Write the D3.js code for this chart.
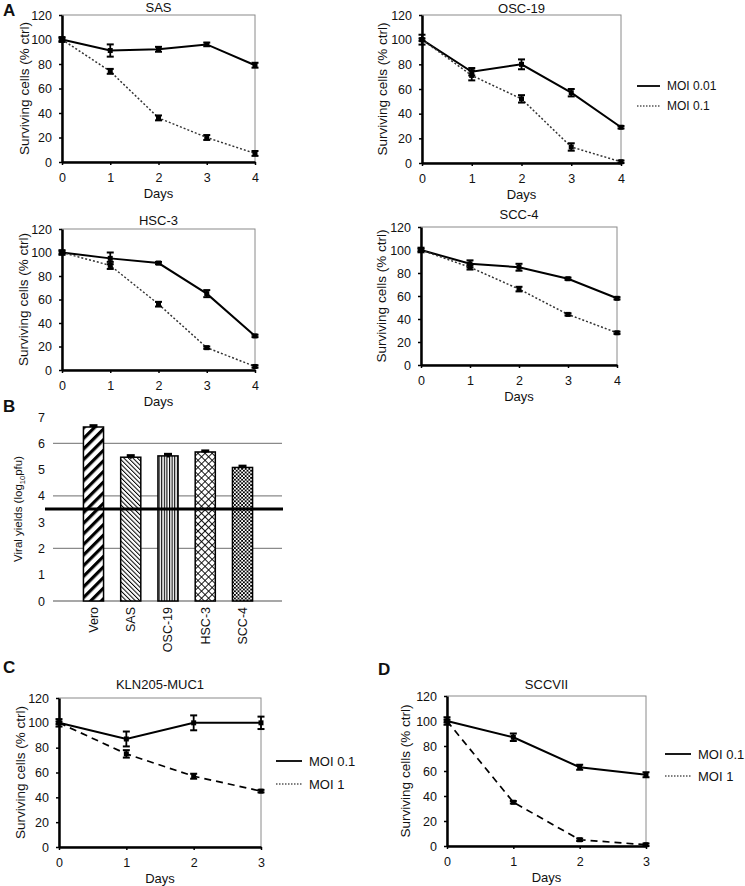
<!DOCTYPE html>
<html><head><meta charset="utf-8">
<script src="https://cdn.jsdelivr.net/npm/d3@7"></script>
<style>body{margin:0;background:#fff} svg{display:block;font-family:"Liberation Sans",Arial,sans-serif}</style>
</head><body><svg id="c" width="745" height="886"></svg>
<script>
// ---------- data ----------
const daysA = [0, 1, 2, 3, 4];
const daysCD = [0, 1, 2, 3];
const yTicks = [0, 20, 40, 60, 80, 100, 120];

const sasMOI001 = [100, 91, 92, 96, 79];
const sasMOI001Err = [2, 5, 2, 1.5, 2];
const sasMOI01 = [100, 74, 36, 20, 7];
const sasMOI01Err = [1, 2, 2, 2, 2];

const oscMOI001 = [100, 74, 80, 57, 29];
const oscMOI001Err = [4, 3, 4, 3, 1];
const oscMOI01 = [100, 71, 52, 13, 1];
const oscMOI01Err = [1, 4, 3, 3, 1];

const hscMOI001 = [100, 95, 91, 65, 29];
const hscMOI001Err = [2, 5, 1, 3, 1];
const hscMOI01 = [100, 89, 56, 19, 3];
const hscMOI01Err = [1, 3, 2, 1, 1];

const sccMOI001 = [100, 88, 85, 75, 58];
const sccMOI001Err = [2, 3, 3, 1, 1];
const sccMOI01 = [100, 85, 66, 44, 28];
const sccMOI01Err = [1, 2, 2, 1, 1];

const klnMOI01 = [100, 87, 100, 100];
const klnMOI01Err = [3, 6, 6, 5];
const klnMOI1 = [100, 75, 57, 45];
const klnMOI1Err = [1, 3, 2, 1];

const sccviiMOI01 = [100, 87, 63, 57];
const sccviiMOI01Err = [3, 3, 2, 2];
const sccviiMOI1 = [100, 35, 5, 1];
const sccviiMOI1Err = [1, 1, 1, 1];

const barCats = ["Vero", "SAS", "OSC-19", "HSC-3", "SCC-4"];
const barYields = [6.62, 5.47, 5.52, 5.67, 5.08];
const barErr = [0.05, 0.06, 0.06, 0.04, 0.05];
const barTicks = [0, 1, 2, 3, 4, 5, 6, 7];
const barGrid = [2, 4, 6];
const detectionLimit = 3.5;

// ---------- drawing ----------
const FONT = '"Liberation Sans", Arial, sans-serif';
const svg = d3.select("#c");
const defs = svg.append("defs");

function pat(id, w, h, draw, transform) {
  const p = defs.append("pattern").attr("id", id).attr("patternUnits", "userSpaceOnUse")
    .attr("width", w).attr("height", h);
  if (transform) p.attr("patternTransform", transform);
  p.append("rect").attr("width", w).attr("height", h).attr("fill", "#fff");
  draw(p);
}
pat("pVero", 7.5, 8, p => p.append("rect").attr("width", 3.2).attr("height", 8).attr("fill", "#000"), "rotate(45)");
pat("pSAS", 3.2, 8, p => p.append("rect").attr("width", 1).attr("height", 8).attr("fill", "#000"), "rotate(-45)");
pat("pOSC", 2.6, 8, p => p.append("rect").attr("width", 1.1).attr("height", 8).attr("fill", "#000"));
pat("pHSC", 5, 5, p => {
  p.append("rect").attr("width", 0.9).attr("height", 5).attr("fill", "#000");
  p.append("rect").attr("width", 5).attr("height", 0.9).attr("fill", "#000");
}, "rotate(45)");
pat("pSCC", 3.6, 3.6, p => {
  p.append("rect").attr("width", 1.8).attr("height", 1.8).attr("fill", "#000");
  p.append("rect").attr("x", 1.8).attr("y", 1.8).attr("width", 1.8).attr("height", 1.8).attr("fill", "#000");
});
const barFills = ["url(#pVero)", "url(#pSAS)", "url(#pOSC)", "url(#pHSC)", "url(#pSCC)"];

const styles = {
  solid: { stroke: "#000", width: 2, dash: null },
  dotted: { stroke: "#333", width: 1.5, dash: "2,2" },
  dashed: { stroke: "#000", width: 1.7, dash: "7,5" }
};

function text(g, x, y, s, size, opts = {}) {
  const t = g.append("text").attr("x", x).attr("y", y).attr("dy", "0.35em")
    .attr("font-size", size).attr("font-family", FONT).attr("fill", "#111")
    .attr("text-anchor", opts.anchor || "middle").text(s);
  if (opts.bold) t.attr("font-weight", "bold");
  if (opts.rotate) t.attr("transform", `rotate(${opts.rotate},${x},${y})`);
  return t;
}

function linePanel(cfg) {
  const xmax = cfg.days[cfg.days.length - 1];
  const x = d3.scaleLinear().domain([0, xmax]).range([cfg.x0, cfg.x1]);
  const y = d3.scaleLinear().domain([0, 120]).range([cfg.yb, cfg.yt]);
  const g = svg.append("g");
  g.append("rect").attr("x", cfg.x0).attr("y", cfg.yt).attr("width", cfg.x1 - cfg.x0)
    .attr("height", cfg.yb - cfg.yt).attr("fill", "none").attr("stroke", "#8a8a8a").attr("stroke-width", 1);
  const ya = g.append("g").attr("transform", `translate(${cfg.x0},0)`)
    .call(d3.axisLeft(y).tickValues(yTicks).tickSizeInner(3).tickSizeOuter(0).tickPadding(7));
  const xa = g.append("g").attr("transform", `translate(0,${cfg.yb})`)
    .call(d3.axisBottom(x).tickValues(cfg.days).tickFormat(d3.format("d")).tickSizeInner(3).tickSizeOuter(0).tickPadding(8));
  [ya, xa].forEach(a => {
    a.attr("font-family", FONT).attr("font-size", 12.5);
    a.select(".domain").attr("stroke", "#000").attr("stroke-width", 2.5);
    a.selectAll(".tick line").attr("stroke", "#000").attr("stroke-width", 1.5);
    a.selectAll(".tick text").attr("fill", "#111");
  });
  text(g, (cfg.x0 + cfg.x1) / 2, cfg.titleY, cfg.title, 13);
  text(g, (cfg.x0 + cfg.x1) / 2, cfg.daysY, "Days", 13);
  text(g, cfg.ylx, (cfg.yb + cfg.yt) / 2, "Surviving cells (% ctrl)", 13.5, { rotate: -90 });

  cfg.series.forEach(s => {
    const st = styles[s.style];
    const pts = cfg.days.map((d, i) => ({ d, v: s.vals[i], e: s.errs[i] }));
    g.append("path").datum(pts)
      .attr("d", d3.line().x(p => x(p.d)).y(p => y(p.v)))
      .attr("fill", "none").attr("stroke", st.stroke).attr("stroke-width", st.width)
      .attr("stroke-dasharray", st.dash);
    const eb = g.append("g").selectAll("g").data(pts).join("g");
    eb.append("line").attr("x1", p => x(p.d)).attr("x2", p => x(p.d))
      .attr("y1", p => y(p.v - p.e)).attr("y2", p => y(p.v + p.e))
      .attr("stroke", "#000").attr("stroke-width", 1.8);
    [-1, 1].forEach(sg => {
      eb.append("line").attr("x1", p => x(p.d) - 3.5).attr("x2", p => x(p.d) + 3.5)
        .attr("y1", p => y(p.v + sg * p.e)).attr("y2", p => y(p.v + sg * p.e))
        .attr("stroke", "#000").attr("stroke-width", 2);
    });
    eb.append("rect").attr("x", p => x(p.d) - 2.5).attr("y", p => y(p.v) - 2.5)
      .attr("width", 5).attr("height", 5).attr("fill", "#000");
  });

  if (cfg.legend) {
    const L = cfg.legend;
    L.items.forEach((it, i) => {
      const ly = L.y + i * L.gap;
      g.append("line").attr("x1", L.x).attr("x2", L.x + L.len).attr("y1", ly).attr("y2", ly)
        .attr("stroke", "#000").attr("stroke-width", i === 0 ? 1.8 : 1.2)
        .attr("stroke-dasharray", i === 0 ? null : "1.5,1.5");
      text(g, L.x + L.len + 7, ly, it, L.size, { anchor: "start" });
    });
  }
}

// Panel A
text(svg, 3, 10, "A", 17, { anchor: "start", bold: true });
linePanel({ title: "SAS", days: daysA, x0: 62, x1: 255, yb: 162, yt: 15, titleY: 7, daysY: 193, ylx: 24,
  series: [{ vals: sasMOI001, errs: sasMOI001Err, style: "solid" }, { vals: sasMOI01, errs: sasMOI01Err, style: "dotted" }] });
linePanel({ title: "OSC-19", days: daysA, x0: 422, x1: 621, yb: 163, yt: 15, titleY: 8, daysY: 194, ylx: 382,
  series: [{ vals: oscMOI001, errs: oscMOI001Err, style: "solid" }, { vals: oscMOI01, errs: oscMOI01Err, style: "dotted" }],
  legend: { x: 637, y: 86, gap: 20, len: 23, size: 12, items: ["MOI 0.01", "MOI 0.1"] } });
linePanel({ title: "HSC-3", days: daysA, x0: 62, x1: 255, yb: 370, yt: 229, titleY: 220, daysY: 401, ylx: 23,
  series: [{ vals: hscMOI001, errs: hscMOI001Err, style: "solid" }, { vals: hscMOI01, errs: hscMOI01Err, style: "dotted" }] });
linePanel({ title: "SCC-4", days: daysA, x0: 421, x1: 617, yb: 365, yt: 227, titleY: 214, daysY: 396, ylx: 381,
  series: [{ vals: sccMOI001, errs: sccMOI001Err, style: "solid" }, { vals: sccMOI01, errs: sccMOI01Err, style: "dotted" }] });

// Panel B
(function () {
  const g = svg.append("g");
  text(g, 3, 406, "B", 17, { anchor: "start", bold: true });
  const x = d3.scaleBand().domain(barCats).range([54, 282]).paddingInner(0.46).paddingOuter(0.79);
  const y = d3.scaleLinear().domain([0, 7]).range([601, 417]);
  g.selectAll(".grid").data([0].concat(barGrid)).join("line")
    .attr("x1", 53).attr("x2", 282).attr("y1", d => y(d)).attr("y2", d => y(d))
    .attr("stroke", "#8a8a8a").attr("stroke-width", 1.3);
  const ya = g.append("g").attr("transform", "translate(53,0)")
    .call(d3.axisLeft(y).tickValues(barTicks).tickFormat(d3.format("d")).tickSize(0).tickPadding(8));
  ya.attr("font-family", FONT).attr("font-size", 12.5);
  ya.select(".domain").remove();
  ya.selectAll(".tick text").attr("fill", "#111");
  g.selectAll(".bar").data(barCats).join("rect")
    .attr("x", d => x(d)).attr("width", x.bandwidth())
    .attr("y", (d, i) => y(barYields[i])).attr("height", (d, i) => y(0) - y(barYields[i]))
    .attr("fill", (d, i) => barFills[i]).attr("stroke", "#000").attr("stroke-width", 1.5);
  g.append("line").attr("x1", 45).attr("x2", 283).attr("y1", y(detectionLimit)).attr("y2", y(detectionLimit))
    .attr("stroke", "#000").attr("stroke-width", 3);
  barCats.forEach((c, i) => {
    const cx = x(c) + x.bandwidth() / 2;
    g.append("line").attr("x1", cx).attr("x2", cx).attr("y1", y(barYields[i] - barErr[i])).attr("y2", y(barYields[i] + barErr[i]))
      .attr("stroke", "#000").attr("stroke-width", 2);
    g.append("line").attr("x1", cx - 4).attr("x2", cx + 4).attr("y1", y(barYields[i] + barErr[i])).attr("y2", y(barYields[i] + barErr[i]))
      .attr("stroke", "#000").attr("stroke-width", 3);
    g.append("text").attr("x", 0).attr("y", 0).attr("transform", `translate(${cx},607) rotate(-90)`)
      .attr("dy", "0.35em").attr("text-anchor", "end").attr("font-size", 12.5).attr("font-family", FONT)
      .attr("fill", "#111").text(c);
  });
  const yl = g.append("text").attr("transform", "translate(18,509) rotate(-90)").attr("text-anchor", "middle")
    .attr("dy", "0.35em").attr("font-size", 11.5).attr("font-family", FONT).attr("fill", "#111");
  yl.append("tspan").text("Viral yields (log");
  yl.append("tspan").attr("font-size", 7.5).attr("dy", "0.35em").text("10");
  yl.append("tspan").attr("dy", "-0.25em").text("pfu)");
})();

// Panel C
text(svg, 3, 667, "C", 17, { anchor: "start", bold: true });
linePanel({ title: "KLN205-MUC1", days: daysCD, x0: 59, x1: 261, yb: 847, yt: 698, titleY: 684, daysY: 878, ylx: 20,
  series: [{ vals: klnMOI01, errs: klnMOI01Err, style: "solid" }, { vals: klnMOI1, errs: klnMOI1Err, style: "dashed" }],
  legend: { x: 276, y: 761, gap: 23, len: 26, size: 13, items: ["MOI 0.1", "MOI 1"] } });

// Panel D
text(svg, 378, 669, "D", 17, { anchor: "start", bold: true });
linePanel({ title: "SCCVII", days: daysCD, x0: 447, x1: 646, yb: 846, yt: 696, titleY: 684, daysY: 877, ylx: 405,
  series: [{ vals: sccviiMOI01, errs: sccviiMOI01Err, style: "solid" }, { vals: sccviiMOI1, errs: sccviiMOI1Err, style: "dashed" }],
  legend: { x: 665, y: 754, gap: 22, len: 26, size: 13, items: ["MOI 0.1", "MOI 1"] } });
</script></body></html>
